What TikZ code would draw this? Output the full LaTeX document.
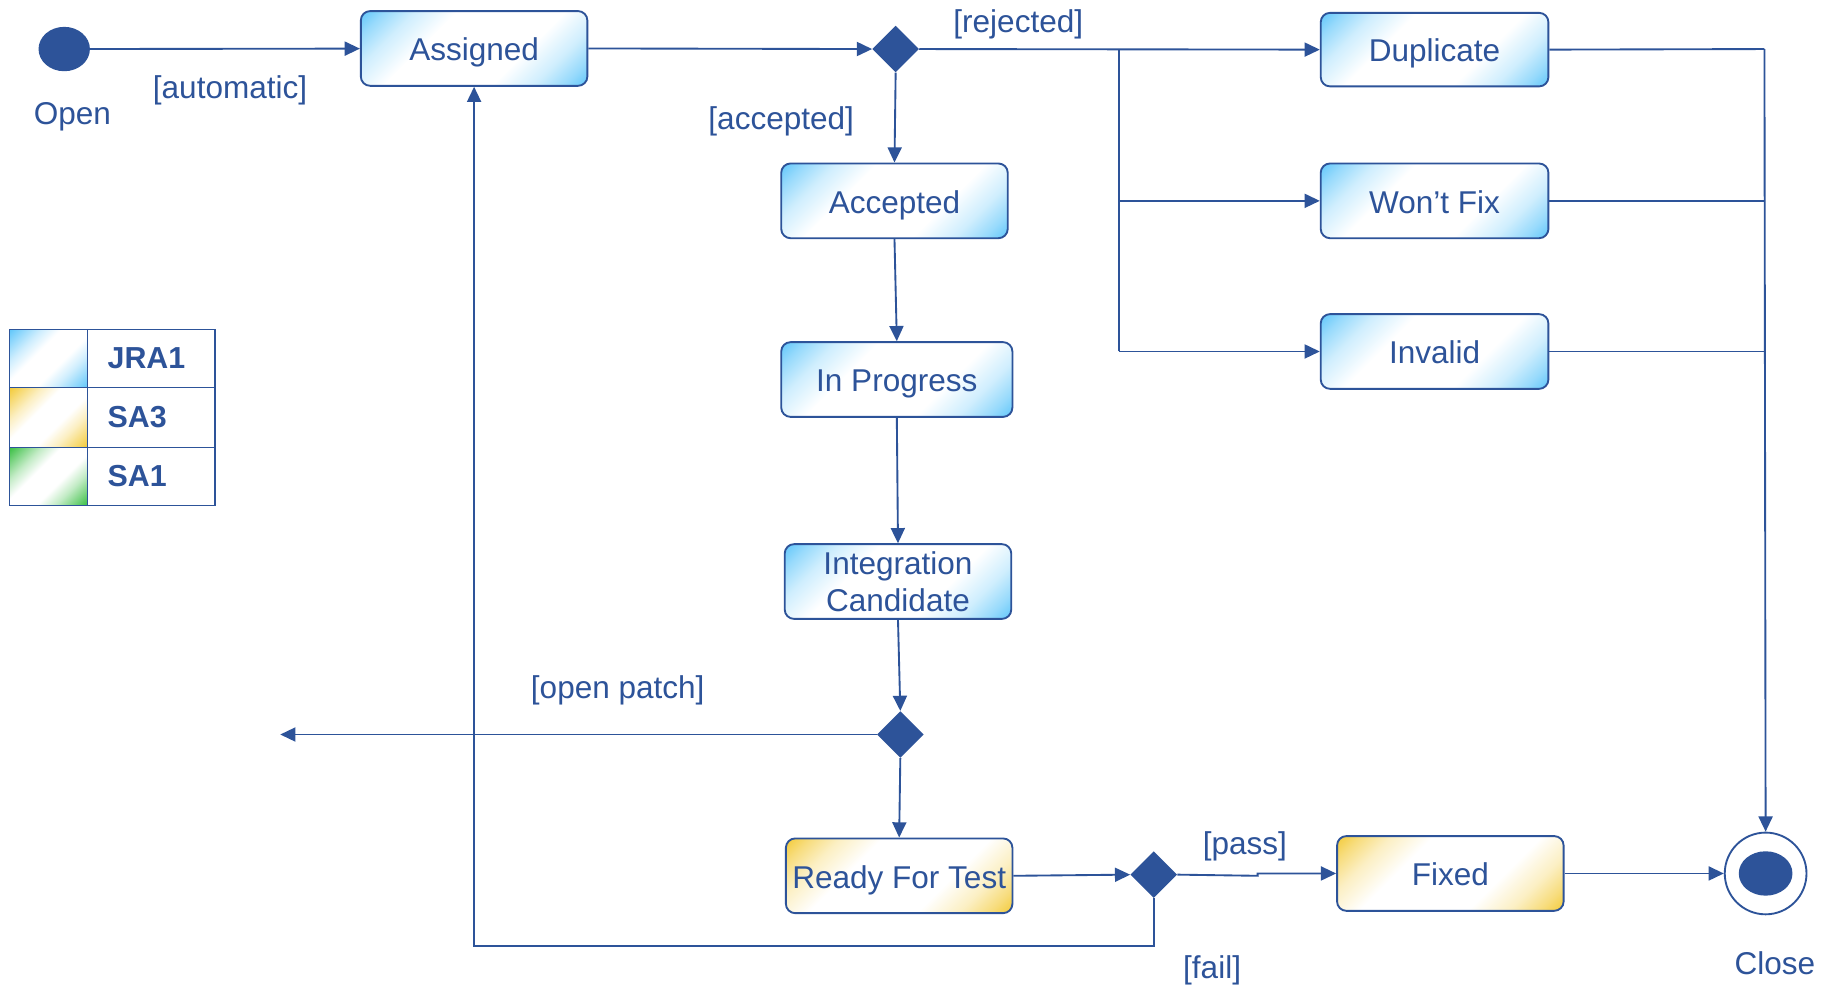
\documentclass[tikz,border=0pt]{standalone}
\usepackage{fontspec}
\setmainfont{Liberation Sans}
\usetikzlibrary{arrows.meta,shapes.geometric,calc}
\definecolor{lc}{RGB}{45,83,153}
\definecolor{gblue}{RGB}{95,198,250}
\definecolor{gyel}{RGB}{243,202,55}
\definecolor{ggreen}{RGB}{55,190,65}
% state box shadings (25bp and 75bp = box corners)
\pgfdeclarehorizontalshading{bluegrad}{100bp}{color(0bp)=(gblue); color(25bp)=(gblue); color(29bp)=(gblue!65!white); color(34bp)=(gblue!30!white); color(41bp)=(white); color(59bp)=(white); color(66bp)=(gblue!30!white); color(71bp)=(gblue!65!white); color(75bp)=(gblue); color(100bp)=(gblue)}
\pgfdeclarehorizontalshading{yelgrad}{100bp}{color(0bp)=(gyel); color(25bp)=(gyel); color(29bp)=(gyel!65!white); color(34bp)=(gyel!30!white); color(41bp)=(white); color(59bp)=(white); color(66bp)=(gyel!30!white); color(71bp)=(gyel!65!white); color(75bp)=(gyel); color(100bp)=(gyel)}
% legend swatch shadings
\pgfdeclarehorizontalshading{bluesw}{100bp}{color(0bp)=(gblue); color(25bp)=(gblue); color(31bp)=(gblue!65!white); color(37bp)=(gblue!30!white); color(44bp)=(white); color(56bp)=(white); color(63bp)=(gblue!30!white); color(69bp)=(gblue!65!white); color(75bp)=(gblue); color(100bp)=(gblue)}
\pgfdeclarehorizontalshading{yelsw}{100bp}{color(0bp)=(gyel); color(25bp)=(gyel); color(31bp)=(gyel!65!white); color(37bp)=(gyel!30!white); color(44bp)=(white); color(56bp)=(white); color(63bp)=(gyel!30!white); color(69bp)=(gyel!65!white); color(75bp)=(gyel); color(100bp)=(gyel)}
\pgfdeclarehorizontalshading{greensw}{100bp}{color(0bp)=(ggreen); color(25bp)=(ggreen); color(31bp)=(ggreen!65!white); color(37bp)=(ggreen!30!white); color(44bp)=(white); color(56bp)=(white); color(63bp)=(ggreen!30!white); color(69bp)=(ggreen!65!white); color(75bp)=(ggreen); color(100bp)=(ggreen)}
% diagonal gradient fill: centre x, centre y, width, height, shading, corner radius
\newcommand\gradfill[6]{%
  \begin{scope}
    \clip[rounded corners=#6] ({#1-#3/2},{#2-#4/2}) rectangle ({#1+#3/2},{#2+#4/2});
    \pgfmathsetmacro\gradD{(#3+#4)/2.8284}
    \shade[shading=#5, shading angle=0, transform canvas={rotate around={-45:(#1,#2)}}] ({#1-\gradD},{#2-\gradD}) rectangle ({#1+\gradD},{#2+\gradD});
  \end{scope}}
\tikzset{
  every node/.style={text=lc, font=\fontsize{27}{32}\selectfont},
  boxbase/.style={draw=lc, line width=1.6pt, rounded corners=8pt, inner sep=0pt, minimum width=194pt, minimum height=64pt, align=center},
  statebox/.style={boxbase, text height=23pt, text depth=2pt},
  decision/.style={diamond, aspect=1, fill=lc, draw=none, inner sep=0pt, minimum width=40pt, minimum height=40pt},
  conn/.style={draw=lc, line width=1.6pt},
  arr/.style={conn, -{Triangle[length=13pt,width=12pt]}},
  lbl/.style={inner sep=0pt},
  legline/.style={draw=lc, line width=1.2pt},
  legtxt/.style={inner sep=0pt, anchor=west, font=\fontsize{26}{30}\selectfont\bfseries}
}
\begin{document}
\begin{tikzpicture}[x=1pt,y=-1pt]
\useasboundingbox (0,0) rectangle (1568,845);
\fill[white] (0,0) rectangle (1568,845);

% gradient fills of the states
\gradfill{406}{41.5}{194}{64}{bluegrad}{8pt}
\gradfill{766}{172}{194}{64}{bluegrad}{8pt}
\gradfill{768}{325}{198}{64}{bluegrad}{8pt}
\gradfill{769}{498}{194}{64}{bluegrad}{8pt}
\gradfill{770}{750}{194}{64}{yelgrad}{8pt}
\gradfill{1242}{748}{194}{64}{yelgrad}{8pt}
\gradfill{1228.5}{42.5}{195}{63}{bluegrad}{8pt}
\gradfill{1228.5}{172}{195}{64}{bluegrad}{8pt}
\gradfill{1228.5}{301}{195}{64}{bluegrad}{8pt}

% initial / final
\node[ellipse, fill=lc, inner sep=0pt, minimum width=44pt, minimum height=38pt] (open) at (55,42) {};
\node[circle, draw=lc, line width=1.6pt, fill=white, inner sep=0pt, minimum size=70pt] (close) at (1512,748) {};
\node[ellipse, fill=lc, inner sep=0pt, minimum width=46pt, minimum height=38pt] (closein) at (1512,748) {};

% states
\node[statebox] (assigned) at (406,41.5) {Assigned};
\node[statebox] (accepted) at (766,172) {Accepted};
\node[statebox, minimum width=198pt] (inprog) at (768,325) {In Progress};
\node[boxbase] (integ) at (769,498) {Integration\\Candidate};
\node[statebox] (ready) at (770,750) {Ready For Test};
\node[statebox] (fixed) at (1242,748) {Fixed};
\node[statebox, minimum width=195pt, minimum height=63pt] (dup) at (1228.5,42.5) {Duplicate};
\node[statebox, minimum width=195pt] (wont) at (1228.5,172) {Won’t Fix};
\node[statebox, minimum width=195pt] (invalid) at (1228.5,301) {Invalid};

% decisions
\node[decision] (d1) at (767,42) {};
\node[decision] (d2) at (771,629) {};
\node[decision] (d3) at (988,749) {};

% helper coordinates
\coordinate (br0) at (958,42);
\coordinate (br1) at (958,172);
\coordinate (br2) at (958,301);
\coordinate (rc0) at (1511,42);
\coordinate (rc1) at (1511,172);
\coordinate (rc2) at (1511,301);
\coordinate (patch) at (240,629);
\coordinate (failc) at (988,810);
\coordinate (jog1) at (1077,750);
\coordinate (jog2) at (1077,748);

% connectors
\draw[arr] (open) -- (assigned);
\draw[arr] (assigned.east) -- (d1.west);
\draw[arr] (d1.east) -- (dup.west);
\draw[conn] (br0) -- (br2);
\draw[arr] (br1) -- (wont.west);
\draw[arr] (br2) -- (invalid.west);
\draw[arr] (d1.south) -- (accepted.north);
\draw[arr] (accepted.south) -- (inprog.north);
\draw[arr] (inprog.south) -- (integ.north);
\draw[arr] (integ.south) -- (d2.north);
\draw[arr] (d2.west) -- (patch);
\draw[arr] (d2.south) -- (ready.north);
\draw[arr] (ready.east) -- (d3.west);
\draw[arr] (d3.east) -- (jog1) -- (jog2) -- (fixed.west);
\draw[arr] (fixed.east) -- (close.west);
\draw[arr] (d3.south) -- (failc) -| (assigned.south);
\draw[conn] (dup.east) -- (rc0);
\draw[conn] (wont.east) -- (rc1);
\draw[conn] (invalid.east) -- (rc2);
\draw[arr] (rc0) -- (close.north);

% labels
\node[lbl] (lopen) at (62,100) {Open};
\node[lbl] (lauto) at (197,77) {[automatic]};
\node[lbl] (lrej) at (872,21) {[rejected]};
\node[lbl] (lacc) at (669,104) {[accepted]};
\node[lbl] (lpatch) at (529,591) {[open patch]};
\node[lbl] (lpass) at (1066,725) {[pass]};
\node[lbl] (lfail) at (1038,831) {[fail]};
\node[lbl] (lclose) at (1520,825) {Close};

% legend
\gradfill{41.5}{307}{67}{50}{bluesw}{0pt}
\gradfill{41.5}{357.5}{67}{51}{yelsw}{0pt}
\gradfill{41.5}{408}{67}{50}{greensw}{0pt}
\draw[legline] (8,282) rectangle (184,433);
\draw[legline] (8,332) -- (184,332);
\draw[legline] (8,383) -- (184,383);
\draw[legline] (75,282) -- (75,433);
\node[legtxt] (leg1) at (92,307) {JRA1};
\node[legtxt] (leg2) at (92,357) {SA3};
\node[legtxt] (leg3) at (92,408) {SA1};
\end{tikzpicture}
\end{document}
